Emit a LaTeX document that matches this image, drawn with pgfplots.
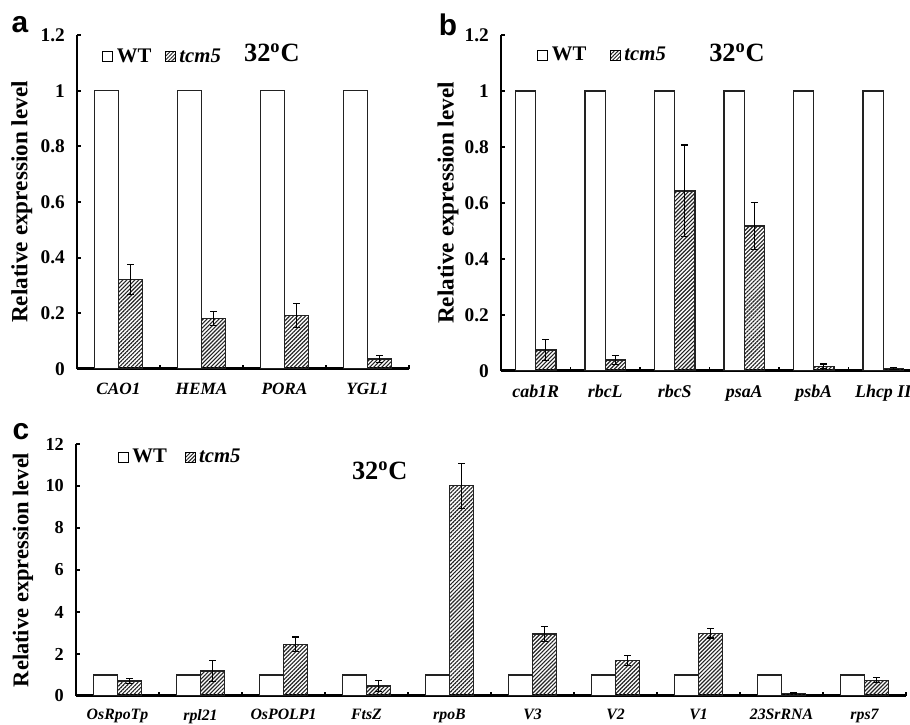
\documentclass[border=0pt]{standalone}
\usepackage{fontspec}
\setmainfont{Liberation Serif}
\newfontfamily\panelfont{Liberation Sans}
\usepackage{pgfplots}
\pgfplotsset{compat=1.18}
\usetikzlibrary{patterns.meta}

\definecolor{edge}{HTML}{222222}

% 1px of the reference = 0.02cm
\pgfplotsset{
  expbar/.style={
    scale only axis,
    ybar=0pt,
    bar width=0.29,
    ymin=0,
    axis x line=bottom, axis y line=left,
    axis line style={-, line width=1.7pt, black},
    tick align=inside,
    major tick length=0.09cm,
    minor tick length=0.07cm,
    major x tick style={draw=none},
    minor x tick style={black, line width=1pt},
    major y tick style={black, line width=1pt},
    /pgf/number format/assume math mode=true,
    yticklabel style={font=\bfseries\fontsize{11}{12}\selectfont, xshift=-0.12cm},
    xticklabel style={font=\bfseries\itshape\fontsize{9.8}{11}\selectfont, yshift=-0.16cm},
    ylabel={Relative expression level},
    ylabel style={font=\bfseries\fontsize{13.2}{15}\selectfont, anchor=center},
    legend cell align=left,
    legend style={draw=none, fill=none, inner sep=0pt, legend columns=2,
      anchor=west, font=\bfseries\fontsize{11.8}{13}\selectfont},
  },
  wt/.style={fill=white, draw=edge, line width=0.7pt, bar shift=-0.145,
    legend image code/.code={\draw[fill=white, draw=black, line width=0.6pt] (0cm,-0.1cm) rectangle (0.2cm,0.1cm);}},
  mut/.style={pattern={Lines[angle=45, distance=1.6pt, line width=0.65pt]}, pattern color=edge,
    draw=edge, line width=0.7pt, bar shift=0.145,
    legend image code/.code={\draw[pattern={Lines[angle=45, distance=1.5pt, line width=0.55pt]}, pattern color=edge, draw=black, line width=0.6pt] (0cm,-0.1cm) rectangle (0.2cm,0.1cm);},
    error bars/.cd, y dir=both, y explicit,
    error bar style={line width=0.6pt, black},
    error mark options={rotate=90, mark size=0.07cm, line width=0.6pt, black}},
}

\begin{document}
\begin{tikzpicture}
\useasboundingbox (0,0) rectangle (18.2cm,14.5cm);

% panel letters
\node[font=\panelfont\bfseries\fontsize{17}{17}\selectfont] at (0.40cm,14.0cm) {a};
\node[font=\panelfont\bfseries\fontsize{17}{17}\selectfont] at (8.96cm,14.0cm) {b};
\node[font=\panelfont\bfseries\fontsize{17}{17}\selectfont] at (0.42cm,5.86cm) {c};

% ---- panel a
\begin{axis}[expbar,
  at={(1.54cm,7.12cm)}, anchor=south west,
  width=6.64cm, height=6.68cm,
  xmin=-0.5, xmax=3.5, ymax=1.2,
  ytick={0,0.2,0.4,0.6,0.8,1,1.2},
  xtick={0,1,2,3}, xticklabels={CAO1,HEMA,PORA,YGL1},
  minor xtick={0.5,1.5,2.5,3.5},
  ylabel style={at={(axis description cs:-0.166,0.5)}},
  legend style={at={(0.075,0.935)}, /tikz/every even column/.append style={column sep=0.2cm}},
]
\addplot[wt] coordinates {(0,1) (1,1) (2,1) (3,1)};
\addlegendentry{WT}
\addplot[mut] coordinates {(0,0.322) +- (0,0.055) (1,0.181) +- (0,0.025) (2,0.192) +- (0,0.042) (3,0.036) +- (0,0.012)};
\addlegendentry{\textit{tcm5}}
\node[font=\bfseries\fontsize{15}{17}\selectfont] at (axis description cs:0.587,0.946) {32\textsuperscript{o}C};
\end{axis}

% ---- panel b
\begin{axis}[expbar,
  at={(10.02cm,7.08cm)}, anchor=south west,
  width=8.34cm, height=6.72cm,
  xmin=-0.5, xmax=5.5, ymax=1.2,
  ytick={0,0.2,0.4,0.6,0.8,1,1.2},
  xtick={0,1,2,3,4,5}, xticklabels={cab1R,rbcL,rbcS,psaA,psbA,Lhcp II},
  xticklabel style={font=\bfseries\itshape\fontsize{10.2}{11}\selectfont},
  minor xtick={0.5,1.5,2.5,3.5,4.5,5.5},
  ylabel style={at={(axis description cs:-0.127,0.5)}},
  legend style={at={(0.086,0.94)}, /tikz/every even column/.append style={column sep=0.4cm}},
]
\addplot[wt] coordinates {(0,1) (1,1) (2,1) (3,1) (4,1) (5,1)};
\addlegendentry{WT}
\addplot[mut] coordinates {(0,0.075) +- (0,0.037) (1,0.039) +- (0,0.016) (2,0.643) +- (0,0.164) (3,0.518) +- (0,0.085) (4,0.017) +- (0,0.008) (5,0.009) +- (0,0.003)};
\addlegendentry{\textit{tcm5}}
\node[font=\bfseries\fontsize{15}{17}\selectfont] at (axis description cs:0.566,0.946) {32\textsuperscript{o}C};
\end{axis}

% ---- panel c
\begin{axis}[expbar,
  at={(1.52cm,0.58cm)}, anchor=south west,
  width=16.6cm, height=5.04cm,
  xmin=-0.5, xmax=9.5, ymax=12,
  ytick={0,2,4,6,8,10,12},
  yticklabel style={font=\bfseries\fontsize{10.4}{12}\selectfont},
  xtick={0,...,9},
  xticklabels={OsRpoTp,rpl21,OsPOLP1,FtsZ,rpoB,V3,V2,V1,23SrRNA,rps7},
  xticklabel style={font=\bfseries\itshape\fontsize{9}{10}\selectfont, yshift=0.02cm},
  minor xtick={0.5,1.5,...,9.5},
  ylabel style={at={(axis description cs:-0.064,0.5)}, font=\bfseries\fontsize{12.8}{14}\selectfont},
  legend style={at={(0.05,0.948)}, /tikz/every even column/.append style={column sep=0.28cm}},
]
\addplot[wt] coordinates {(0,1) (1,1) (2,1) (3,1) (4,1) (5,1) (6,1) (7,1) (8,1) (9,1)};
\addlegendentry{WT}
\addplot[mut] coordinates {(0,0.71) +- (0,0.12) (1,1.19) +- (0,0.52) (2,2.46) +- (0,0.35) (3,0.48) +- (0,0.27) (4,10.01) +- (0,1.07) (5,2.95) +- (0,0.37) (6,1.70) +- (0,0.24) (7,2.98) +- (0,0.22) (8,0.13) +- (0,0.03) (9,0.75) +- (0,0.12)};
\addlegendentry{\textit{tcm5}}
\node[font=\bfseries\fontsize{15}{17}\selectfont] at (axis description cs:0.366,0.893) {32\textsuperscript{o}C};
\end{axis}
\end{tikzpicture}
\end{document}
